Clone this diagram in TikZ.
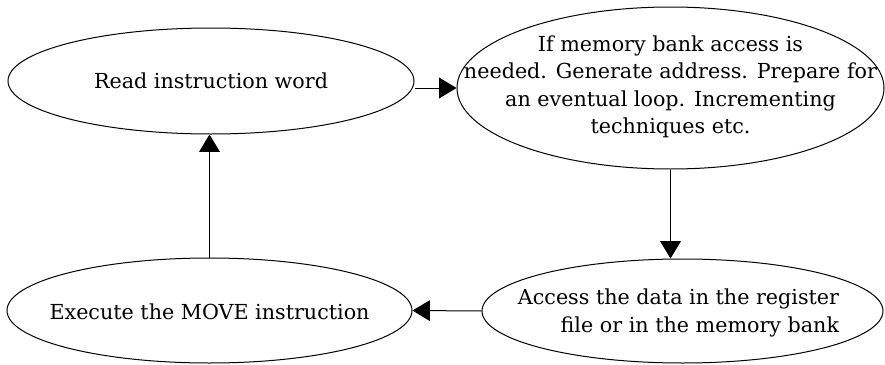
\documentclass[tikz,border=0pt]{standalone}
\usepackage{fontspec}
\setmainfont{DejaVu Serif}
\usetikzlibrary{shapes.geometric,arrows.meta}
\begin{document}
\begin{tikzpicture}[x=0.75pt,y=-0.75pt,
  state/.style={draw, ellipse, line width=0.75pt, inner sep=0pt},
  txt/.style={inner sep=0pt, align=center, font=\fontsize{15.5}{20.5}\selectfont},
  arr/.style={line width=0.75pt, -{Triangle[length=13pt,width=15.5pt]}}]
\useasboundingbox (0,0) rectangle (885,364);
% states of the MOVE cycle
\node[state, minimum width=304.5pt, minimum height=79.5pt] (read) at (211,81) {};
\node[state, minimum width=320.25pt, minimum height=121.5pt] (addr) at (670.5,88) {};
\node[state, minimum width=300.75pt, minimum height=78pt] (access) at (682.5,311) {};
\node[state, minimum width=303.75pt, minimum height=78.75pt] (exec) at (209.5,310.5) {};
% state texts
\node[txt] (readt) at (read.center) {Read instruction word};
\node[txt] (addrt) at ([yshift=1pt]addr.center) {If memory bank access is\\needed. Generate address. Prepare for\\an eventual loop. Incrementing\\techniques etc.};
\node[txt, align=right, font=\fontsize{15.5}{21}\selectfont] (accesst) at ([xshift=-3pt,yshift=-1.5pt]access.center) {Access the data in the register\\file or in the memory bank};
\node[txt] (exect) at ([yshift=-1pt]exec.center) {Execute the MOVE instruction};
% transitions
\draw[arr] (addr.west -| read.east) -- (addr.west);
\draw[arr] (addr.south) -- (addr.south |- access.north);
\draw[arr] (access.west) -- (exec.east);
\draw[arr] (exec.north) -- (exec.north |- read.south);
\end{tikzpicture}
\end{document}
